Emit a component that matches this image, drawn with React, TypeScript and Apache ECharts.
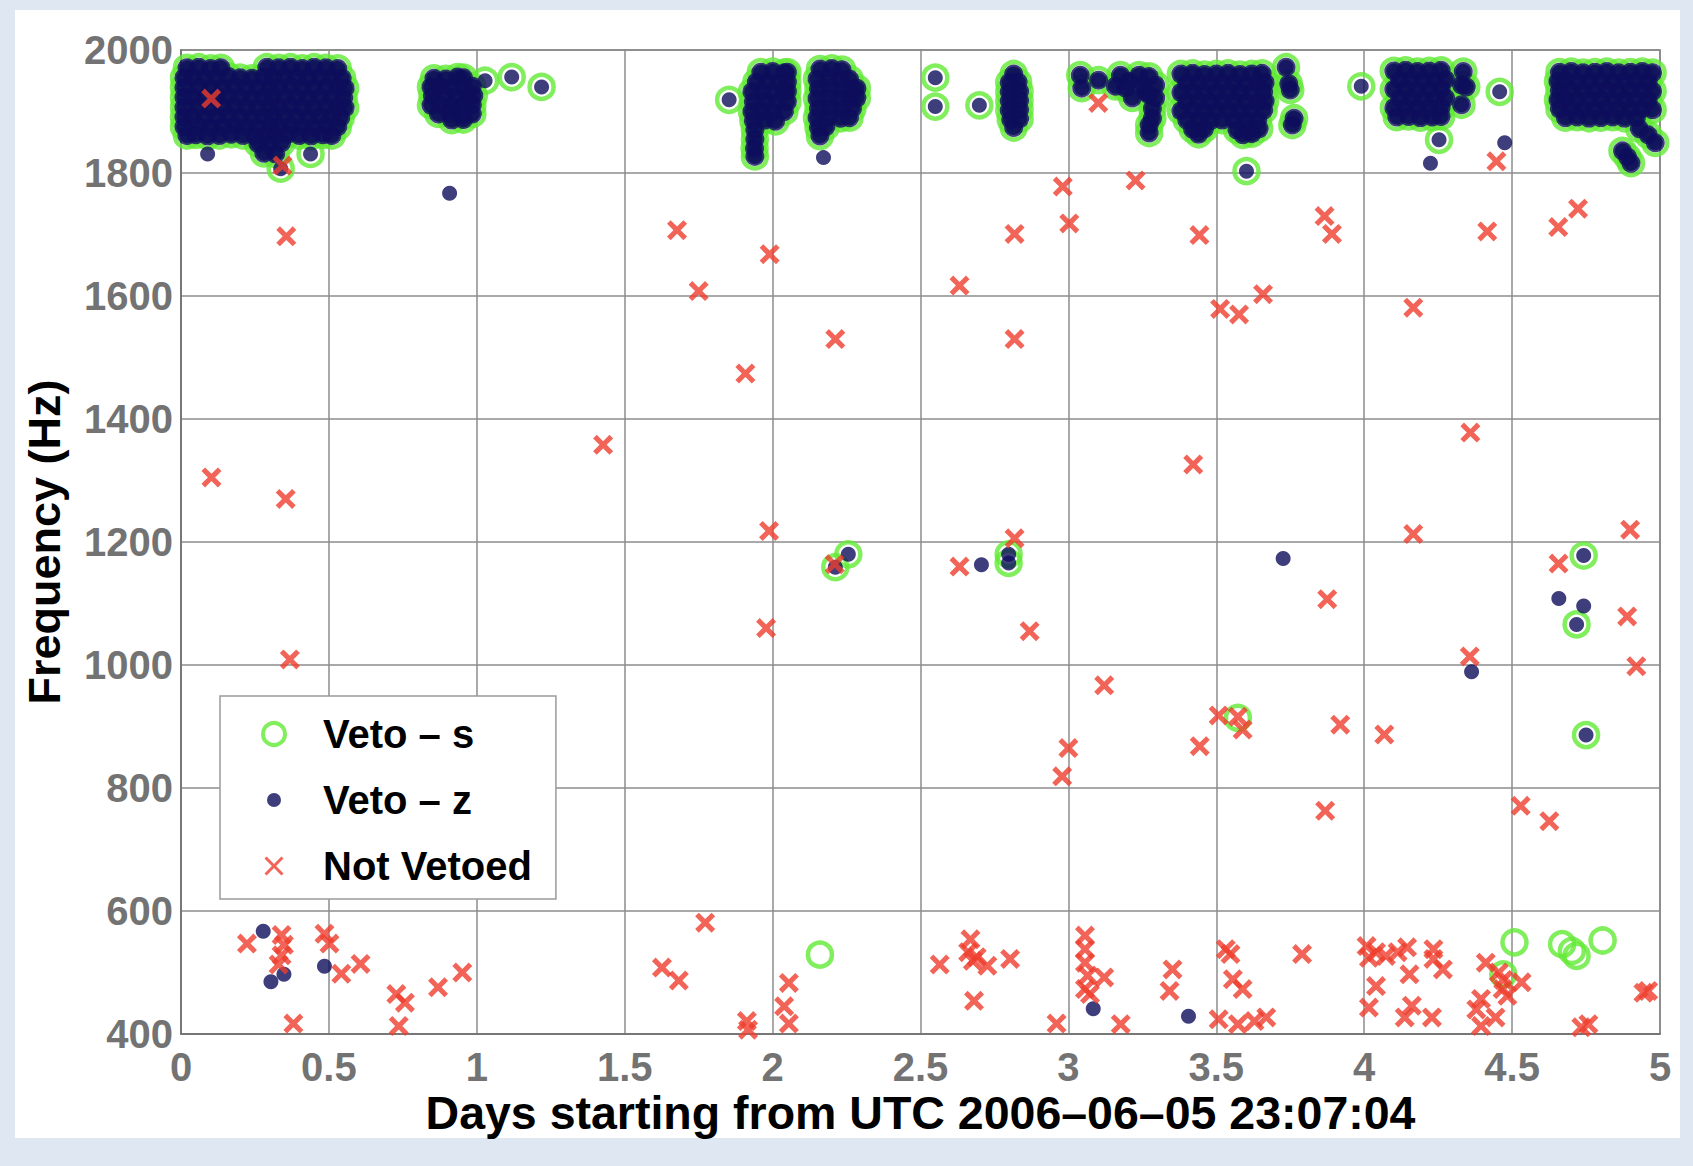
import React, { useEffect, useRef } from "react";
import * as echarts from "echarts";

// ---------- axes ----------
const dayAxis = { min: 0, max: 5, step: 0.5 };
const freqAxis = { min: 400, max: 2000, step: 200 };
const xTitle = "Days starting from UTC 2006–06–05 23:07:04";
const yTitle = "Frequency (Hz)";
const seriesNames = ["Veto – s", "Veto – z", "Not Vetoed"];

// ---------- dense bursts flagged by both vetoes (day, Hz) ----------
const burstA = [
  [0.02,1971],[0.06,1972],[0.1,1970],[0.135,1971],[0.29,1972],[0.33,1971],[0.37,1972],[0.41,1970],[0.45,1972],[0.49,1971],[0.53,1970],
  [0.01,1955],[0.04,1956],[0.08,1954],[0.12,1955],[0.16,1957],[0.2,1955],[0.24,1954],[0.28,1956],[0.31,1955],[0.35,1957],[0.39,1955],[0.43,1954],[0.47,1956],[0.51,1955],[0.545,1954],
  [0.01,1939],[0.06,1940],[0.1,1938],[0.14,1939],[0.18,1941],[0.22,1939],[0.26,1938],[0.3,1940],[0.33,1939],[0.37,1941],[0.41,1939],[0.45,1938],[0.49,1940],[0.53,1939],[0.555,1938],
  [0.01,1923],[0.04,1924],[0.08,1922],[0.12,1923],[0.16,1925],[0.2,1923],[0.24,1922],[0.28,1924],[0.31,1923],[0.35,1925],[0.39,1923],[0.43,1922],[0.47,1924],[0.51,1923],[0.55,1922],
  [0.01,1907],[0.06,1908],[0.1,1906],[0.14,1907],[0.18,1909],[0.22,1907],[0.26,1906],[0.3,1908],[0.33,1907],[0.37,1909],[0.41,1907],[0.45,1906],[0.49,1908],[0.53,1907],[0.555,1906],
  [0.01,1891],[0.04,1892],[0.08,1890],[0.12,1891],[0.16,1893],[0.2,1891],[0.24,1890],[0.28,1892],[0.31,1891],[0.35,1893],[0.39,1891],[0.43,1890],[0.47,1892],[0.51,1891],[0.54,1890],
  [0.01,1875],[0.06,1876],[0.1,1874],[0.14,1875],[0.18,1877],[0.22,1875],[0.26,1874],[0.3,1876],[0.33,1875],[0.37,1877],[0.41,1875],[0.45,1874],[0.49,1876],[0.53,1875],
  [0.02,1861],[0.05,1862],[0.09,1860],[0.13,1861],[0.17,1863],[0.21,1861],[0.25,1860],[0.29,1862],[0.32,1861],[0.36,1863],[0.4,1861],[0.44,1860],[0.48,1862],[0.51,1861],
  [0.26,1848],[0.3,1847],[0.34,1849],[0.28,1832],[0.32,1831],
];
const burstB = [
  [0.855,1954],[0.895,1953],[0.935,1956],[0.955,1955],
  [0.845,1940],[0.875,1941],[0.915,1939],[0.955,1940],[0.985,1941],
  [0.85,1925],[0.89,1926],[0.93,1924],[0.97,1925],[0.99,1926],
  [0.845,1910],[0.875,1911],[0.915,1909],[0.955,1910],[0.985,1911],
  [0.87,1896],[0.91,1897],[0.95,1895],[0.985,1896],
  [0.915,1886],[0.955,1887],
];
const burstC = [
  [1.96,1964],[2.0,1965],[2.04,1963],[2.05,1964],
  [1.945,1948],[1.98,1949],[2.02,1947],[2.05,1948],
  [1.93,1932],[1.965,1933],[2.0,1931],[2.04,1932],[2.05,1933],
  [1.935,1916],[1.975,1917],[2.015,1915],[2.05,1916],
  [1.93,1900],[1.965,1901],[2.0,1899],[2.04,1900],
  [1.935,1885],[1.975,1886],[2.01,1884],
  [1.94,1870],[1.94,1855],[1.939,1840],[1.94,1827],
];
const burstD = [
  [2.16,1969],[2.2,1970],[2.235,1968],
  [2.15,1953],[2.19,1954],[2.23,1952],[2.26,1953],
  [2.155,1937],[2.195,1938],[2.235,1936],[2.27,1937],[2.285,1938],
  [2.15,1921],[2.19,1922],[2.23,1920],[2.265,1921],[2.285,1922],
  [2.155,1905],[2.195,1906],[2.235,1904],[2.27,1905],
  [2.15,1890],[2.19,1891],[2.23,1889],[2.26,1890],
  [2.155,1874],[2.18,1875],[2.16,1860],
];
const burstE = [
  [2.815,1961],[2.8,1947],[2.83,1948],[2.8,1932],[2.835,1933],[2.8,1917],[2.835,1918],
  [2.8,1902],[2.835,1903],[2.805,1887],[2.835,1888],[2.815,1874],
];
const burstF = [
  [3.04,1959],[3.045,1938],[3.102,1951],[3.159,1941],[3.176,1959],[3.205,1949],[3.239,1959],[3.273,1957],
  [3.261,1932],[3.216,1922],[3.284,1905],[3.284,1889],[3.273,1865],[3.193,1938],[3.25,1943],[3.273,1927],
  [3.295,1943],[3.295,1922],[3.273,1878],
];
const burstG = [
  [3.38,1961],[3.42,1962],[3.46,1960],[3.5,1961],[3.54,1962],[3.58,1960],[3.62,1961],[3.655,1962],
  [3.4,1946],[3.44,1947],[3.48,1945],[3.52,1946],[3.56,1947],[3.6,1945],[3.64,1946],[3.665,1947],
  [3.38,1931],[3.42,1932],[3.46,1930],[3.5,1931],[3.54,1932],[3.58,1930],[3.62,1931],[3.66,1932],
  [3.4,1916],[3.44,1917],[3.48,1915],[3.52,1916],[3.56,1917],[3.6,1915],[3.64,1916],[3.665,1917],
  [3.38,1901],[3.42,1902],[3.46,1900],[3.5,1901],[3.54,1902],[3.58,1900],[3.62,1901],[3.66,1902],
  [3.4,1886],[3.44,1887],[3.48,1885],[3.52,1886],[3.56,1887],[3.6,1885],[3.64,1886],
  [3.42,1871],[3.46,1872],[3.57,1870],[3.61,1871],[3.645,1872],
  [3.44,1863],[3.59,1862],[3.62,1864],
  [3.736,1972],[3.745,1945],[3.75,1935],[3.763,1889],[3.757,1878],
];
const burstH = [
  [4.1,1966],[4.14,1967],[4.18,1965],[4.22,1966],[4.26,1967],
  [4.12,1951],[4.16,1952],[4.2,1950],[4.24,1951],[4.275,1952],
  [4.1,1936],[4.14,1937],[4.18,1935],[4.22,1936],[4.26,1937],
  [4.12,1921],[4.16,1922],[4.2,1920],[4.24,1921],[4.275,1922],
  [4.1,1906],[4.14,1907],[4.18,1905],[4.22,1906],[4.26,1907],
  [4.11,1891],[4.15,1892],[4.19,1890],[4.23,1891],[4.26,1892],
  [4.335,1965],[4.329,1943],[4.345,1940],[4.329,1911],
];
const burstI = [
  [4.66,1964],[4.7,1965],[4.74,1963],[4.78,1964],[4.82,1965],[4.86,1963],[4.9,1964],[4.94,1965],[4.975,1963],
  [4.655,1949],[4.68,1950],[4.72,1948],[4.76,1949],[4.8,1950],[4.84,1948],[4.88,1949],[4.92,1950],[4.96,1948],
  [4.66,1934],[4.7,1935],[4.74,1933],[4.78,1934],[4.82,1935],[4.86,1933],[4.9,1934],[4.94,1935],[4.975,1933],
  [4.655,1919],[4.68,1920],[4.72,1918],[4.76,1919],[4.8,1920],[4.84,1918],[4.88,1919],[4.92,1920],[4.96,1918],
  [4.66,1904],[4.7,1905],[4.74,1903],[4.78,1904],[4.82,1905],[4.86,1903],[4.9,1904],[4.94,1905],[4.975,1903],
  [4.68,1890],[4.72,1891],[4.76,1889],[4.8,1890],[4.84,1891],[4.88,1889],[4.92,1890],
  [4.93,1872],[4.96,1862],[4.984,1849],[4.873,1836],[4.89,1826],[4.902,1816],
];

// isolated triggers flagged by both vetoes
const bothIsolated = [
  [0.438,1831],[0.337,1807],[1.028,1950],[1.118,1956],[1.219,1940],[1.853,1919],
  [2.55,1955],[2.55,1908],[2.699,1910],[3.602,1803],[3.99,1941],[4.458,1932],[4.253,1854],
  [2.256,1180],[2.212,1159],[2.798,1166],[2.798,1180],[4.742,1178],[4.718,1066],[4.75,886],
];
// only the s-veto
const vetoSOnly = [
  [2.16,529],[3.573,914],[4.508,549],[4.669,546],[4.702,535],[4.718,527],[4.806,552],[4.47,497],
];
// only the z-veto
const vetoZOnly = [
  [0.09,1831],[0.908,1767],[2.172,1825],[4.224,1816],[4.475,1849],[2.706,1163],[3.726,1173],
  [4.658,1108],[4.742,1096],[4.363,989],[3.084,441],[3.406,429],[0.278,567],[0.485,510],[0.304,485],[0.348,497],
];
// not vetoed
const notVetoed = [
  [0.102,1921],[0.343,1812],[0.356,1697],[1.677,1707],[1.75,1608],[1.99,1668],[1.908,1474],[1.427,1358],
  [0.103,1305],[0.354,1270],[0.368,1009],[1.988,1218],[1.978,1060],[2.212,1530],[2.21,1164],
  [2.632,1617],[2.818,1701],[2.818,1530],[2.818,1206],[2.632,1160],[2.869,1055],[2.981,1778],[3.003,1718],
  [3.101,1914],[3.227,1788],[3.443,1699],[3.422,1326],[3.513,1579],[3.577,1570],[3.658,1603],[3.866,1730],
  [3.891,1701],[4.166,1581],[4.166,1213],[4.359,1378],[4.416,1705],[4.447,1819],[4.656,1712],[4.723,1742],
  [4.657,1165],[4.899,1220],[4.889,1079],[4.92,998],[3.875,1107],[4.357,1014],[3.121,967],[3.0,865],
  [2.979,819],[3.444,868],[3.508,918],[3.573,916],[3.589,895],[3.919,903],[4.068,887],[3.868,763],
  [4.529,771],[4.626,746],
  [0.223,547],[0.34,561],[0.348,545],[0.34,528],[0.33,513],[0.485,563],[0.502,547],[0.542,498],
  [0.607,514],[0.38,417],[0.728,465],[0.757,451],[0.736,413],[0.869,476],[0.951,500],
  [1.626,508],[1.683,487],[1.772,581],[1.913,421],[1.917,407],[2.055,483],[2.039,445],[2.055,417],
  [2.565,513],[2.669,554],[2.661,533],[2.677,519],[2.726,511],[2.803,522],[2.681,454],[2.96,417],[2.69,525],
  [3.056,560],[3.056,538],[3.056,516],[3.065,495],[3.121,492],[3.056,473],[3.073,465],[3.177,416],
  [3.352,505],[3.342,470],[3.532,538],[3.548,530],[3.556,489],[3.589,473],[3.508,424],[3.573,416],
  [3.629,421],[3.669,427],[3.79,530],
  [4.008,543],[4.016,524],[4.04,533],[4.073,527],[4.113,533],[4.145,541],[4.234,538],[4.234,522],
  [4.266,505],[4.04,478],[4.153,497],[4.016,443],[4.137,427],[4.161,446],[4.229,427],[4.411,516],
  [4.455,500],[4.395,457],[4.379,440],[4.395,413],[4.444,427],[4.468,473],[4.484,462],[4.532,484],
  [4.47,488],[4.758,416],[4.734,411],[4.944,467],[4.96,470],
];

// ---------- styles ----------
const GREEN = "#62ea34";
const NAVY = "#0e0e5c";
const RED = "#ee3d2d";
const FONT = "'Liberation Sans', Arial, Helvetica, sans-serif";
const X_SYMBOL = "path://M0,1.8L1.8,0L5,3.2L8.2,0L10,1.8L6.8,5L10,8.2L8.2,10L5,6.8L1.8,10L0,8.2L3.2,5Z";
const X_ICON = "path://M0,0M22,22M1.5,3.6L3.6,1.5L11,8.9L18.4,1.5L20.5,3.6L13.1,11L20.5,18.4L18.4,20.5L11,13.1L3.6,20.5L1.5,18.4L8.9,11Z";
const DOT_ICON = "path://M0,0M22,22M18,11A7,7,0,1,1,4,11A7,7,0,1,1,18,11Z";

export default function App() {
  const ref = useRef<HTMLDivElement>(null);

  useEffect(() => {
    if (!ref.current) return;
    const chart = echarts.init(ref.current, null, { renderer: "svg" });
    const bursts = [...burstA, ...burstB, ...burstC, ...burstD, ...burstE, ...burstF, ...burstG, ...burstH, ...burstI];
    const vetoS = [...bursts, ...bothIsolated, ...vetoSOnly];
    const vetoZ = [...bursts, ...bothIsolated, ...vetoZOnly];

    chart.setOption({
      animation: false,
      backgroundColor: "transparent",
      grid: {
        left: 181, top: 50, width: 1479, height: 984,
        show: true, backgroundColor: "#ffffff", borderColor: "#6f6f6f", borderWidth: 1.5,
      },
      xAxis: {
        type: "value",
        min: dayAxis.min, max: dayAxis.max, interval: dayAxis.step,
        name: xTitle, nameLocation: "middle", nameGap: 57, nameMoveOverlap: false,
        nameTextStyle: { fontSize: 46.5, lineHeight: 44, fontWeight: "bold", color: "#000", fontFamily: FONT },
        axisLine: { show: true, lineStyle: { color: "#6f6f6f", width: 1.5 } },
        axisTick: { show: false },
        splitLine: { show: true, lineStyle: { color: "#8c8c8c", width: 1.5 } },
        axisLabel: { fontSize: 40, lineHeight: 38, fontWeight: "bold", color: "#737373", fontFamily: FONT, margin: 14,
          formatter: (v: number) => String(v) },
      },
      yAxis: {
        type: "value",
        min: freqAxis.min, max: freqAxis.max, interval: freqAxis.step,
        name: yTitle, nameLocation: "middle", nameGap: 114,
        nameTextStyle: { fontSize: 45, fontWeight: "bold", color: "#000", fontFamily: FONT },
        axisLine: { show: true, lineStyle: { color: "#6f6f6f", width: 1.5 } },
        axisTick: { show: false },
        splitLine: { show: true, lineStyle: { color: "#8c8c8c", width: 1.5 } },
        axisLabel: { fontSize: 40, fontWeight: "bold", color: "#737373", fontFamily: FONT, margin: 8,
          formatter: (v: number) => String(v) },
      },
      legend: {
        show: true, orient: "vertical", left: 220, top: 696,
        padding: [16, 24, 11, 41],
        itemWidth: 88, itemHeight: 22, itemGap: 22,
        backgroundColor: "#ffffff", borderColor: "#9a9a9a", borderWidth: 1.5,
        selectedMode: false,
        textStyle: { fontSize: 40, fontWeight: "bold", color: "#000", fontFamily: FONT, lineHeight: 44 },
        data: [
          { name: seriesNames[0], icon: "circle", itemStyle: { color: "rgba(0,0,0,0)", borderColor: GREEN, borderWidth: 4 } },
          { name: seriesNames[1], icon: DOT_ICON, itemStyle: { color: NAVY, borderWidth: 0 } },
          { name: seriesNames[2], icon: X_ICON, itemStyle: { color: RED, borderWidth: 0 } },
        ],
      },
      series: [
        {
          name: seriesNames[0], type: "scatter", data: vetoS,
          symbol: "circle", symbolSize: 24, z: 2, progressive: 0, silent: true,
          itemStyle: { color: "rgba(0,0,0,0)", borderColor: GREEN, borderWidth: 4.5 },
        },
        {
          // bursts are so dense that their z-veto markers merge into one solid patch
          name: seriesNames[1], type: "scatter", data: bursts,
          symbol: "circle", symbolSize: 19, z: 3, progressive: 0, silent: true,
          itemStyle: { color: NAVY },
        },
        {
          name: seriesNames[1], type: "scatter", data: vetoZ,
          symbol: "circle", symbolSize: 15, z: 3, progressive: 0, silent: true,
          itemStyle: { color: NAVY },
        },
        {
          name: seriesNames[2], type: "scatter", data: notVetoed,
          symbol: X_SYMBOL, symbolSize: 20, z: 4, progressive: 0, silent: true,
          itemStyle: { color: RED },
        },
      ],
    });
    return () => chart.dispose();
  }, []);

  return (
    <div style={{ position: "fixed", left: 0, top: 0, width: 1693, height: 1166, background: "#dfe7f3", overflow: "hidden" }}>
      <div style={{ position: "absolute", left: 15, top: 10, width: 1665, height: 1128, background: "#ffffff" }} />
      <div ref={ref} style={{ position: "absolute", left: 0, top: 0, width: 1693, height: 1166 }} />
    </div>
  );
}
